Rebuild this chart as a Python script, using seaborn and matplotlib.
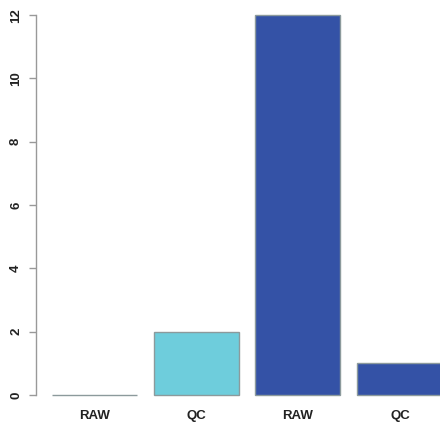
import matplotlib
matplotlib.use("Agg")
import matplotlib.pyplot as plt
import seaborn as sns
import pandas as pd

# Valores das barras
bar_ids = ["b1", "b2", "b3", "b4"]
bar_labels = ["RAW", "QC", "RAW", "QC"]
bar_values = [0, 2, 12, 1]
bar_colors = ["#ffffff", "#6ecddc", "#3452a6", "#3452a6"]
y_ticks = [0, 2, 4, 6, 8, 10, 12]

df = pd.DataFrame({"id": bar_ids, "value": bar_values})

sns.set_style("white")
plt.rcParams["font.family"] = ["Liberation Sans", "DejaVu Sans"]

fig = plt.figure(figsize=(4.4, 4.3), dpi=100)
# eixo ultrapassa a borda direita (recortado como no original)
ax = fig.add_axes([36 / 440, 20 / 430, 422 / 440, 410 / 430])

sns.barplot(data=df, x="id", y="value", hue="id", palette=bar_colors,
            width=1 / 1.2, saturation=1, legend=False, ax=ax,
            edgecolor="#8c9a9c", linewidth=1)

ax.set_xlim(-0.57, 3.57)
ax.set_ylim(-0.48, 12.48)
ax.set_yticks(y_ticks)
ax.set_yticklabels([str(t) for t in y_ticks], rotation=90, va="center",
                   fontsize=9.5, fontweight="bold", color="#222222")
ax.set_xticks(range(len(bar_labels)))
ax.set_xticklabels(bar_labels, fontsize=9.5, fontweight="bold", color="#222222")
ax.tick_params(axis="x", length=0, pad=0)
ax.tick_params(axis="y", length=5, width=1, color="#999999", pad=5, left=True)
ax.set_xlabel("")
ax.set_ylabel("")

for s in ["top", "right", "bottom"]:
    ax.spines[s].set_visible(False)
ax.spines["left"].set_bounds(0, 12)
ax.spines["left"].set_color("#999999")
ax.spines["left"].set_linewidth(1)

fig.savefig("out.png", dpi=100)
